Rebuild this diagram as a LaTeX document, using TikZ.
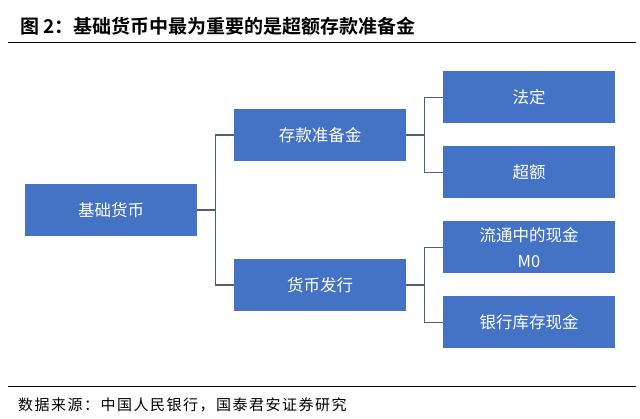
\documentclass[tikz,border=0pt]{standalone}
\usepackage{fontspec}
\setmainfont{Liberation Sans}
\newfontfamily\cjk{Noto Sans CJK SC}
\newfontfamily\cjkb{Noto Sans CJK SC Bold}
\definecolor{boxblue}{HTML}{4472C4}
\definecolor{linecol}{HTML}{4E5F7A}
\begin{document}
\begin{tikzpicture}[x=1pt,y=-1pt,
  bluebox/.style={fill=boxblue,draw=none,minimum width=172pt,minimum height=52pt,inner sep=0pt,text=white,font=\cjk\fontsize{16.5}{26}\selectfont,align=center},
  conn/.style={draw=linecol,line width=1.3pt}]
\useasboundingbox (0,0) rectangle (640,419);
% title
\node[anchor=west,inner sep=0pt,font=\cjkb\fontsize{19}{21}\selectfont] (title) at (20,26) {图 2：基础货币中最为重要的是超额存款准备金};
\draw[line width=1pt] (8,43) coordinate (t1) -- (636,43) coordinate (t2);
% boxes
\node[bluebox] (base) at (111,210) {基础货币};
\node[bluebox] (dep) at (320,135) {存款准备金};
\node[bluebox] (iss) at (320,285) {货币发行};
\node[bluebox] (fd) at (529,97.5) {法定};
\node[bluebox] (ce) at (529,172.5) {超额};
\node[bluebox] (m0) at (529,247.5) {流通中的现金\\M0};
\node[bluebox] (vault) at (529,322.5) {银行库存现金};
% connectors
\draw[conn] (base.east) -- ++(18,0) |- (dep.west);
\draw[conn] (base.east) -- ++(18,0) |- (iss.west);
\draw[conn] (dep.east) -- ++(18,0) |- (fd.west);
\draw[conn] (dep.east) -- ++(18,0) |- (ce.west);
\draw[conn] (iss.east) -- ++(18,0) |- (m0.west);
\draw[conn] (iss.east) -- ++(18,0) |- (vault.west);
% footer
\draw[line width=1pt] (8,387) coordinate (b1) -- (636,387) coordinate (b2);
\node[anchor=west,inner sep=0pt,font=\cjk\fontsize{15}{17}\selectfont\addfontfeature{LetterSpace=10}] (src) at (18,405) {数据来源：中国人民银行，国泰君安证券研究};
\end{tikzpicture}
\end{document}
